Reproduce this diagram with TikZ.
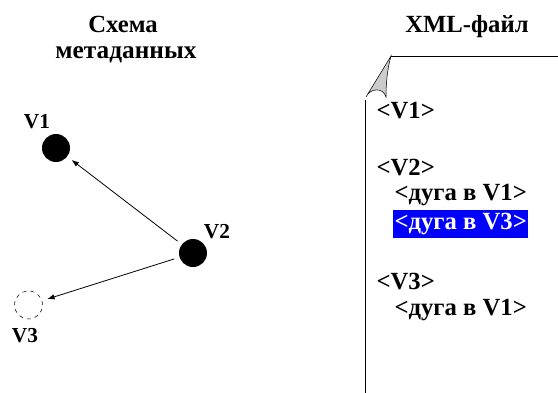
\documentclass[tikz,border=0pt]{standalone}
\usepackage{fontspec}
\setmainfont{Liberation Serif}
\usetikzlibrary{arrows.meta}

\begin{document}
\begin{tikzpicture}[x=0.75pt,y=-0.75pt,font=\bfseries\fontsize{16}{18}\selectfont,
   vertex/.style={circle,fill=black,inner sep=0pt,minimum size=21pt},
   ghost/.style={circle,draw,dashed,inner sep=0pt,minimum size=21pt},
   arc/.style={semithick,-{Latex[length=5.5pt,width=4pt]},shorten <=4pt,shorten >=4pt},
   head/.style={anchor=base,inner sep=0pt,font=\bfseries\fontsize{18.5}{20}\selectfont},
   tag/.style={anchor=west,inner xsep=1pt,inner ysep=0pt,font=\bfseries\fontsize{18.5}{20}\selectfont}]
\useasboundingbox (0,0) rectangle (558,393);

% metadata graph
\node[head] (schema) at (123,32) {Схема};
\node[head,font=\bfseries\fontsize{19}{21}\selectfont] (schema2) at (126,58) {метаданных};
\node[vertex] (v1) at (56,148) {};
\node[vertex] (v2) at (193,253) {};
\node[ghost] (v3) at (28.5,305) {};
\node (l1) at (37,122) {V1};
\node (l2) at (217,232) {V2};
\node (l3) at (25,336) {V3};
\draw[arc] (v2) -- (v1);
\draw[arc] (v2) -- (v3);

% xml file sheet with folded corner
\node[head] (file) at (467,32) {XML-файл};
\draw[semithick] (391,56) -- (558,56);
\draw[semithick] (365,100) -- (365,393);
\draw[fill=black!20] (391,56) -- (366,97) .. controls (370,88) and (383,87) .. (386,97)
   .. controls (386,85) and (387,70) .. cycle;

\node[tag] (t1) at (375,111) {<V1>};
\node[tag] (t2) at (375,168) {<V2>};
\node[tag] (t21) at (393,195) {<дуга в V1>};
\node[tag,fill=blue,text=white,inner ysep=2.7pt] (t23) at (393,224) {<дуга в V3>};
\node[tag] (t3) at (375,282) {<V3>};
\node[tag] (t31) at (393,310) {<дуга в V1>};
\end{tikzpicture}
\end{document}
